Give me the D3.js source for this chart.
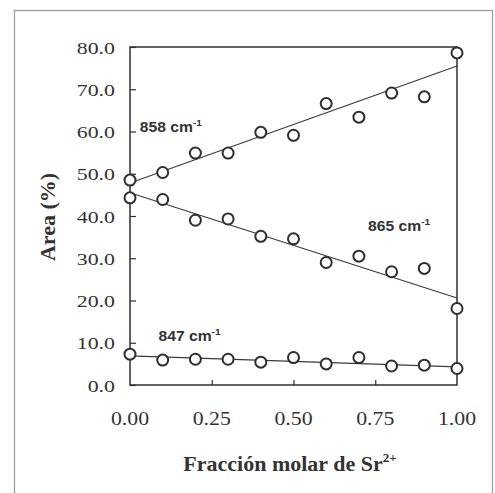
<!DOCTYPE html>
<html>
<head>
<meta charset="utf-8">
<script src="https://cdn.jsdelivr.net/npm/d3@7"></script>
<style>
  html, body { margin: 0; padding: 0; background: #ffffff; }
  svg { display: block; }
</style>
</head>
<body>
<svg id="chart" width="495" height="493"></svg>
<script>
// Molar fraction of Sr2+ (x) and band areas (%) for the three bands
const fraction = [0, 0.1, 0.2, 0.3, 0.4, 0.5, 0.6, 0.7, 0.8, 0.9, 1.0];
const area858 = [48.5, 50.3, 54.9, 54.9, 59.8, 59.1, 66.6, 63.4, 69.1, 68.2, 78.6];
const area865 = [44.3, 43.9, 39.0, 39.3, 35.2, 34.6, 29.0, 30.5, 26.8, 27.6, 18.1];
const area847 = [7.3, 5.9, 6.1, 6.1, 5.4, 6.5, 5.0, 6.5, 4.5, 4.7, 3.9];

// Linear fit lines: value at x = 0 and at x = 1
const fit858 = [47.8, 75.5];
const fit865 = [45.5, 20.6];
const fit847 = [6.9, 4.3];

const xTicks = [0, 0.25, 0.5, 0.75, 1.0];
const yTicks = [0, 10, 20, 30, 40, 50, 60, 70, 80];

const bandNames = ["858", "865", "847"];
// label anchors in data units (fraction, area)
const labelAt = [[0.03, 59.8], [0.728, 36.4], [0.087, 10.4]];

const series = [
  { name: bandNames[0], values: area858, fit: fit858, label: labelAt[0] },
  { name: bandNames[1], values: area865, fit: fit865, label: labelAt[1] },
  { name: bandNames[2], values: area847, fit: fit847, label: labelAt[2] }
];

const svg = d3.select("#chart");
const ink = "#2f2f2f";

// outer figure frame
svg.append("rect")
  .attr("x", 14.5).attr("y", 10.5)
  .attr("width", 478).attr("height", 490)
  .attr("fill", "none").attr("stroke", "#9a9a9a").attr("stroke-width", 1.2);

const plot = { left: 130, right: 457, top: 47, bottom: 385 };

const x = d3.scaleLinear().domain([0, 1]).range([plot.left, plot.right]);
const y = d3.scaleLinear().domain([0, 80]).range([plot.bottom, plot.top]);

// plot box
svg.append("rect")
  .attr("x", plot.left).attr("y", plot.top)
  .attr("width", plot.right - plot.left).attr("height", plot.bottom - plot.top)
  .attr("fill", "none").attr("stroke", ink).attr("stroke-width", 1.5);

// left axis: inward ticks, labels drawn separately
const yAxis = d3.axisLeft(y).tickValues(yTicks).tickSize(-6).tickFormat("");
svg.append("g").attr("transform", `translate(${plot.left},0)`).call(yAxis)
  .call(g => g.select(".domain").remove())
  .call(g => g.selectAll(".tick line").attr("stroke", ink).attr("stroke-width", 1.2));

const xAxis = d3.axisBottom(x).tickValues(xTicks.slice(1, -1)).tickSize(-5).tickFormat("");
svg.append("g").attr("transform", `translate(0,${plot.bottom})`).call(xAxis)
  .call(g => g.select(".domain").remove())
  .call(g => g.selectAll(".tick line").attr("stroke", ink).attr("stroke-width", 1.2));

// y tick labels (wide serif digits)
svg.append("g").selectAll("text").data(yTicks).join("text")
  .attr("transform", d => `translate(115,${y(d) + 6.6}) scale(1.25,1)`)
  .attr("text-anchor", "end")
  .attr("font-family", "'Liberation Serif', 'Times New Roman', serif")
  .attr("font-size", 17.5)
  .attr("fill", "#333")
  .text(d => d3.format(".1f")(d));

// x tick labels
svg.append("g").selectAll("text").data(xTicks).join("text")
  .attr("transform", d => `translate(${x(d)},424.5) scale(1.18,1)`)
  .attr("text-anchor", "middle")
  .attr("font-family", "'Liberation Serif', 'Times New Roman', serif")
  .attr("font-size", 18.5)
  .attr("fill", "#333")
  .text(d => d3.format(".2f")(d));

// axis titles
const xt = svg.append("text")
  .attr("x", 290).attr("y", 471)
  .attr("text-anchor", "middle")
  .attr("font-family", "'Liberation Serif', 'Times New Roman', serif")
  .attr("font-weight", "bold")
  .attr("font-size", 22)
  .attr("fill", "#333");
xt.append("tspan").text("Fracción molar de Sr");
xt.append("tspan").attr("font-size", 13).attr("dy", -9).text("2+");

svg.append("text")
  .attr("transform", "translate(55,217) rotate(-90)")
  .attr("text-anchor", "middle")
  .attr("font-family", "'Liberation Serif', 'Times New Roman', serif")
  .attr("font-weight", "bold")
  .attr("font-size", 22)
  .attr("fill", "#333")
  .text("Area (%)");

// fit lines
const fitLine = d3.line().x(d => x(d[0])).y(d => y(d[1]));
svg.append("g").selectAll("path").data(series).join("path")
  .attr("d", s => fitLine([[0, s.fit[0]], [1, s.fit[1]]]))
  .attr("fill", "none").attr("stroke", "#3a3a3a").attr("stroke-width", 1.2);

// data markers
series.forEach(s => {
  svg.append("g").selectAll("circle").data(s.values.map((v, i) => [fraction[i], v])).join("circle")
    .attr("cx", d => x(d[0])).attr("cy", d => y(d[1])).attr("r", 5.5)
    .attr("fill", "#fff").attr("stroke", ink).attr("stroke-width", 2);
});

// band labels
series.forEach(s => {
  const t = svg.append("text")
    .attr("transform", `translate(${x(s.label[0])},${y(s.label[1])}) scale(1.12,1)`)
    .attr("font-family", "'Liberation Sans', Arial, sans-serif")
    .attr("font-weight", "bold")
    .attr("font-size", 14)
    .attr("fill", "#333");
  t.append("tspan").text(s.name + " cm");
  t.append("tspan").attr("font-size", 9).attr("dy", -6).text("-1");
});
</script>
</body>
</html>
